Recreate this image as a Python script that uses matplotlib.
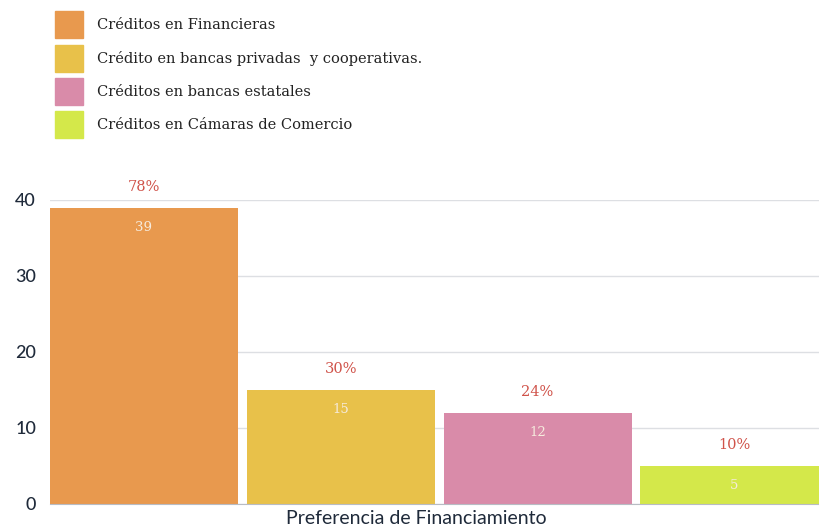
import matplotlib.pyplot as plt
from matplotlib.patches import Rectangle

categories = ["Créditos en Financieras",
              "Crédito en bancas privadas  y cooperativas.",
              "Créditos en bancas estatales",
              "Créditos en Cámaras de Comercio"]
counts = [39, 15, 12, 5]
pct_labels = ["78%", "30%", "24%", "10%"]
colors = ["#E8994E", "#E8C14A", "#D98BA9", "#D4E84A"]
yticks = [0, 10, 20, 30, 40]
xlabel = "Preferencia de Financiamiento"

W, H = 819, 530
fig = plt.figure(figsize=(W / 100, H / 100), dpi=100)
ax = fig.add_axes([50 / W, 1 - 504 / H, 1 - 50 / W, (504 - 200) / H])

x = list(range(len(counts)))
ax.bar(x, counts, width=0.955, color=colors, zorder=2)
ax.set_xlim(-0.4775, 3.43)
ax.set_ylim(0, 40)

for xi, v, p in zip(x, counts, pct_labels):
    ax.annotate(p, (xi, v), xytext=(0, 10), textcoords="offset points",
                ha="center", va="bottom", color="#D0534A",
                family="DejaVu Serif", fontsize=10.5, annotation_clip=False)
    ax.annotate(str(v), (xi, v), xytext=(0, -14), textcoords="offset points",
                ha="center", va="center", color="#F6EBDD",
                family="DejaVu Serif", fontsize=9.5)

ax.set_yticks(yticks)
ax.set_yticklabels([str(t) for t in yticks], family="Lato", fontsize=13,
                   color="#1F2A3A", fontweight="medium")
ax.tick_params(axis="y", length=0, pad=10)
ax.set_xticks([])
for s in ["top", "right", "left"]:
    ax.spines[s].set_visible(False)
ax.spines["bottom"].set_color("#B8BCC4")
ax.grid(axis="y", color="#DDDFE3", linewidth=1, zorder=0)
ax.set_axisbelow(True)

fig.text(416 / W, 1 - 518 / H, xlabel, ha="center", va="center",
         family="Lato", fontsize=14, color="#1F2A3A")

# legend squares and text
leg_y = [25, 59, 92, 125]
for c, lab, yy in zip(colors, categories, leg_y):
    fig.patches.append(Rectangle((55 / W, 1 - (yy + 13) / H), 28 / W, 27 / H,
                                 transform=fig.transFigure, color=c))
    fig.text(97 / W, 1 - yy / H, lab, ha="left", va="center",
             family="DejaVu Serif", fontsize=10.5, color="#222222")

fig.savefig("out.png", dpi=100)
